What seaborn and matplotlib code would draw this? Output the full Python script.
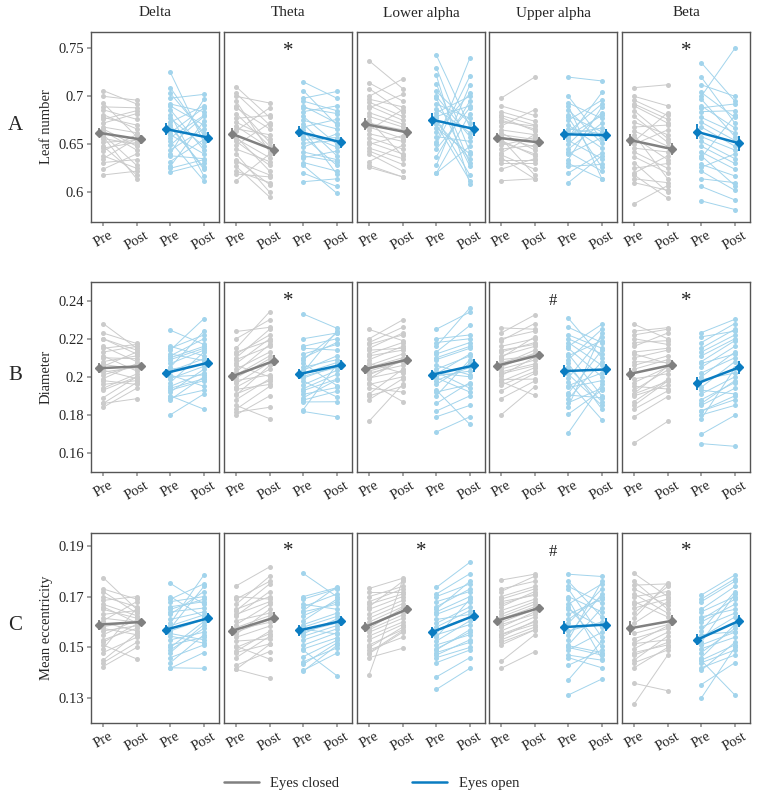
import numpy as np
import pandas as pd
import matplotlib
matplotlib.use('Agg')
import matplotlib.pyplot as plt
from matplotlib.lines import Line2D
import seaborn as sns

# ---------------- labels ----------------
BANDS = ['Delta', 'Theta', 'Lower alpha', 'Upper alpha', 'Beta']
ROWS = ['A', 'B', 'C']
MEASURES = ['Leaf number', 'Diameter', 'Mean eccentricity']
TICK_LABELS = ['Pre', 'Post', 'Pre', 'Post']
CONDITIONS = ['Eyes closed', 'Eyes open']

SIG_A = ['', '*', '', '', '*']
SIG_B = ['', '*', '', '#', '*']
SIG_C = ['', '*', '*', '#', '*']

# ---------------- data (row A in 1e-3, rows B/C in 1e-4) ----------------
# A: leaf number
A_DELTA_EC_PRE = [706, 624, 693, 648, 681, 660, 672, 618, 686, 656, 664, 643, 700, 631, 678, 652, 666, 638, 689, 646, 668, 658, 676, 635]
A_DELTA_EC_POST = [692, 640, 658, 618, 666, 628, 682, 622, 676, 650, 644, 660, 696, 634, 670, 654, 648, 625, 688, 652, 662, 614, 685, 656]
A_DELTA_EO_PRE = [725, 621, 698, 660, 681, 644, 692, 632, 673, 653, 686, 627, 709, 640, 668, 657, 677, 625, 703, 649, 670, 662, 690, 638]
A_DELTA_EO_POST = [652, 630, 702, 640, 617, 666, 684, 655, 690, 612, 644, 674, 659, 697, 626, 680, 648, 634, 662, 679, 624, 688, 670, 635]

A_THETA_EC_PRE = [700, 612, 682, 666, 653, 640, 710, 627, 673, 664, 619, 690, 658, 645, 703, 634, 669, 622, 677, 656, 695, 632, 688, 649]
A_THETA_EC_POST = [693, 640, 648, 660, 628, 600, 678, 595, 656, 688, 616, 652, 622, 632, 670, 608, 646, 610, 680, 636, 642, 618, 666, 672]
A_THETA_EO_PRE = [715, 642, 698, 661, 651, 611, 688, 668, 628, 706, 647, 665, 636, 684, 620, 675, 658, 695, 631, 679, 690, 655, 671, 638]
A_THETA_EO_POST = [698, 634, 705, 647, 654, 614, 682, 676, 599, 670, 661, 619, 643, 690, 606, 666, 628, 685, 622, 650, 672, 657, 638, 632]

A_LALPHA_EC_PRE = [737, 652, 714, 679, 632, 694, 668, 640, 700, 657, 626, 683, 697, 661, 646, 688, 672, 628, 708, 650, 675, 643, 690, 665]
A_LALPHA_EC_POST = [708, 640, 695, 668, 649, 679, 656, 622, 718, 645, 616, 671, 689, 653, 635, 702, 665, 616, 684, 659, 638, 629, 675, 686]
A_LALPHA_EO_PRE = [743, 652, 730, 663, 620, 705, 671, 637, 722, 658, 650, 687, 713, 645, 677, 628, 698, 667, 620, 692, 683, 673, 700, 679]
A_LALPHA_EO_POST = [668, 740, 642, 703, 648, 672, 612, 695, 609, 653, 721, 662, 630, 688, 618, 712, 627, 640, 682, 677, 700, 635, 658, 690]

A_UALPHA_EC_PRE = [698, 645, 678, 660, 612, 684, 652, 641, 690, 658, 630, 669, 680, 649, 636, 673, 662, 624, 675, 656, 665, 654, 639, 634]
A_UALPHA_EC_POST = [720, 649, 664, 655, 614, 674, 640, 660, 680, 647, 630, 686, 670, 657, 614, 669, 644, 635, 666, 618, 660, 638, 624, 634]
A_UALPHA_EO_PRE = [720, 650, 700, 663, 630, 686, 657, 610, 693, 666, 642, 675, 620, 680, 659, 690, 634, 670, 627, 661, 645, 678, 640, 654]
A_UALPHA_EO_POST = [716, 683, 655, 692, 614, 651, 704, 638, 677, 661, 622, 696, 641, 663, 680, 614, 689, 646, 629, 667, 672, 626, 657, 635]

A_BETA_EC_PRE = [709, 650, 696, 637, 588, 679, 664, 618, 700, 646, 625, 673, 692, 657, 610, 668, 620, 685, 642, 653, 631, 690, 660, 614]
A_BETA_EC_POST = [712, 665, 680, 620, 607, 652, 648, 594, 690, 642, 630, 660, 676, 634, 602, 670, 638, 656, 625, 683, 600, 672, 614, 610]
A_BETA_EO_PRE = [735, 700, 720, 673, 591, 690, 658, 712, 626, 684, 614, 704, 648, 697, 606, 688, 668, 629, 678, 642, 653, 636, 622, 638]
A_BETA_EO_POST = [695, 750, 672, 654, 582, 667, 644, 700, 640, 685, 610, 678, 630, 658, 592, 692, 648, 617, 662, 624, 635, 680, 602, 607]

# B: diameter
B_DELTA_EC_PRE = [2280, 2065, 2230, 1990, 2160, 1840, 2080, 2130, 1930, 2200, 2025, 1860, 2110, 2055, 1960, 2200, 1890, 2010, 2150, 1980, 2100, 2035, 1940, 1860]
B_DELTA_EC_POST = [2150, 2040, 2175, 2070, 2080, 1940, 2110, 2160, 2000, 2120, 2050, 1885, 2030, 2130, 1980, 2140, 2000, 2060, 2170, 1960, 2095, 1990, 2015, 1970]
B_DELTA_EO_PRE = [2245, 2030, 2140, 1880, 2090, 2160, 1950, 2050, 1800, 2120, 2010, 2150, 1970, 1900, 2100, 2040, 1930, 2070, 1990, 2110, 1890, 2000, 1920, 1940]
B_DELTA_EO_POST = [2170, 2095, 2305, 2000, 2150, 2110, 2020, 2240, 1910, 2085, 1950, 2220, 2130, 1830, 2160, 2065, 1980, 2140, 2055, 2200, 1930, 2010, 2040, 1990]

B_THETA_EC_PRE = [2150, 1880, 2238, 1965, 2010, 1830, 2120, 2060, 1800, 1995, 2200, 1910, 2040, 1850, 2100, 1980, 2130, 1934, 2025, 1945, 2090, 1814, 2070, 1904]
B_THETA_EC_POST = [2342, 1990, 2260, 2075, 2110, 1950, 2220, 2000, 1900, 2095, 2300, 1980, 2130, 1780, 2250, 2010, 2190, 1960, 2170, 2040, 2160, 1840, 2200, 2060]
B_THETA_EO_PRE = [2330, 2035, 2200, 1938, 2160, 2070, 1828, 2025, 1890, 2120, 1978, 2150, 1818, 2090, 2003, 1908, 2100, 1958, 1868, 2050, 1993, 1878, 2018, 1928]
B_THETA_EO_POST = [2255, 2110, 2230, 2014, 2200, 1954, 2065, 2240, 1984, 2170, 1894, 2140, 1790, 2230, 2049, 1944, 2180, 2034, 1869, 2090, 2059, 1924, 2075, 1988]

B_LALPHA_EC_PRE = [2200, 1767, 2170, 2060, 1990, 2249, 2030, 1940, 2110, 2010, 2150, 1880, 2090, 2050, 1910, 2120, 1970, 2180, 2020, 1994, 2140, 2070, 1960, 1900]
B_LALPHA_EC_POST = [2299, 1960, 2220, 2120, 2095, 2190, 2080, 1920, 2140, 2085, 2230, 1990, 2160, 2100, 2040, 2180, 1870, 2260, 2060, 2030, 2150, 2020, 2000, 1950]
B_LALPHA_EO_PRE = [2160, 1980, 2250, 2090, 1820, 2130, 2025, 1900, 2180, 1930, 2015, 1790, 2100, 2060, 1710, 2200, 1960, 2040, 1860, 2005, 2120, 1995, 2020, 1920]
B_LALPHA_EO_POST = [2362, 2050, 2340, 2150, 1900, 2270, 1940, 2090, 2200, 1750, 2120, 1850, 2160, 2010, 1790, 2220, 2070, 2110, 1970, 2030, 2180, 1920, 2000, 1960]

B_UALPHA_EC_PRE = [2257, 2065, 2230, 1926, 2130, 2200, 1800, 2090, 2160, 2041, 1975, 2110, 1886, 2140, 2051, 2016, 2190, 1956, 2075, 1986, 2100, 2026, 1976, 2006]
B_UALPHA_EC_POST = [2250, 2140, 2325, 2018, 2180, 2240, 1948, 2110, 2200, 2088, 1903, 2160, 1978, 2170, 2125, 2058, 2280, 2028, 2118, 1988, 2210, 2068, 2048, 2103]
B_UALPHA_EO_PRE = [2308, 2090, 2260, 1914, 2050, 2180, 1844, 2120, 2200, 1974, 1705, 2160, 2014, 2110, 1884, 2070, 2220, 1954, 1864, 2150, 1994, 1904, 1804, 1944]
B_UALPHA_EO_POST = [2100, 2250, 2180, 2140, 1870, 2060, 2230, 1900, 2120, 1775, 1960, 2276, 1850, 2190, 2080, 1830, 2150, 2020, 1940, 2000, 2210, 1890, 1930, 1980]

B_BETA_EC_PRE = [2276, 2060, 2240, 1930, 2200, 2130, 1790, 2100, 2220, 1870, 2040, 1652, 2160, 1990, 2180, 1830, 2080, 1912, 1900, 2120, 1950, 1850, 1970, 1910]
B_BETA_EC_POST = [2200, 2110, 2258, 2036, 2170, 2150, 1896, 2140, 2250, 1986, 2090, 1766, 2230, 2016, 2190, 1926, 2075, 2056, 1956, 2070, 1936, 1978, 2051, 1976]
B_BETA_EO_PRE = [2232, 1649, 2150, 2050, 1780, 2180, 1945, 1698, 2110, 2000, 1850, 2210, 1820, 2020, 1880, 1985, 1930, 2130, 1910, 1821, 2080, 1800, 2070, 1860]
B_BETA_EO_POST = [2302, 1635, 2250, 2160, 2045, 2280, 2080, 1798, 2200, 2130, 1940, 2240, 1880, 2100, 1970, 2020, 1910, 2220, 2000, 1900, 2190, 1850, 2120, 1980]

# C: mean eccentricity
C_DELTA_EC_PRE = [1775, 1615, 1730, 1550, 1670, 1440, 1598, 1700, 1480, 1630, 1575, 1720, 1510, 1605, 1660, 1425, 1582, 1685, 1530, 1650, 1565, 1450, 1520, 1495]
C_DELTA_EC_POST = [1650, 1600, 1690, 1608, 1625, 1520, 1565, 1660, 1540, 1645, 1550, 1635, 1455, 1680, 1597, 1500, 1603, 1700, 1575, 1615, 1585, 1555, 1592, 1655]
C_DELTA_EO_PRE = [1752, 1575, 1700, 1595, 1490, 1680, 1555, 1418, 1650, 1610, 1420, 1690, 1530, 1640, 1565, 1460, 1630, 1545, 1660, 1500, 1510, 1585, 1440, 1480]
C_DELTA_EO_POST = [1670, 1740, 1620, 1785, 1575, 1700, 1530, 1480, 1690, 1640, 1418, 1750, 1560, 1655, 1610, 1510, 1720, 1517, 1680, 1602, 1540, 1628, 1550, 1590]

C_THETA_EC_PRE = [1742, 1578, 1700, 1485, 1670, 1552, 1414, 1625, 1690, 1525, 1570, 1430, 1650, 1605, 1460, 1590, 1630, 1414, 1560, 1645, 1505, 1540, 1480, 1500]
C_THETA_EC_POST = [1817, 1625, 1690, 1564, 1780, 1650, 1512, 1720, 1760, 1534, 1599, 1484, 1700, 1635, 1544, 1670, 1680, 1379, 1609, 1750, 1454, 1584, 1514, 1554]
C_THETA_EO_PRE = [1791, 1580, 1700, 1529, 1407, 1645, 1670, 1554, 1605, 1410, 1690, 1562, 1434, 1625, 1544, 1660, 1489, 1590, 1464, 1640, 1572, 1509, 1444, 1494]
C_THETA_EO_POST = [1700, 1622, 1735, 1573, 1508, 1739, 1650, 1612, 1690, 1478, 1730, 1596, 1518, 1680, 1586, 1710, 1389, 1635, 1528, 1670, 1553, 1558, 1498, 1538]

C_LALPHA_EC_PRE = [1732, 1600, 1700, 1545, 1670, 1392, 1585, 1720, 1630, 1460, 1650, 1575, 1510, 1680, 1570, 1490, 1615, 1530, 1660, 1476, 1590, 1560, 1480, 1500]
C_LALPHA_EC_POST = [1772, 1660, 1740, 1600, 1710, 1765, 1640, 1720, 1685, 1497, 1700, 1655, 1570, 1730, 1628, 1540, 1672, 1590, 1760, 1560, 1645, 1615, 1566, 1580]
C_LALPHA_EO_PRE = [1736, 1580, 1640, 1710, 1610, 1550, 1700, 1384, 1680, 1525, 1335, 1650, 1570, 1495, 1630, 1660, 1440, 1595, 1510, 1480, 1540, 1490, 1470, 1460]
C_LALPHA_EO_POST = [1835, 1645, 1700, 1790, 1630, 1590, 1750, 1460, 1720, 1605, 1418, 1760, 1620, 1560, 1680, 1730, 1490, 1660, 1550, 1520, 1690, 1570, 1530, 1500]

C_UALPHA_EC_PRE = [1765, 1630, 1700, 1598, 1680, 1418, 1720, 1565, 1660, 1445, 1645, 1612, 1530, 1690, 1580, 1510, 1670, 1590, 1552, 1620, 1550, 1730, 1540, 1520]
C_UALPHA_EC_POST = [1788, 1680, 1740, 1650, 1705, 1483, 1780, 1620, 1720, 1550, 1690, 1660, 1580, 1730, 1640, 1569, 1710, 1630, 1600, 1670, 1590, 1760, 1605, 1570]
C_UALPHA_EO_PRE = [1788, 1610, 1730, 1313, 1670, 1565, 1740, 1460, 1650, 1595, 1430, 1700, 1530, 1690, 1372, 1630, 1507, 1760, 1550, 1490, 1660, 1510, 1470, 1500]
C_UALPHA_EO_POST = [1779, 1700, 1540, 1376, 1750, 1600, 1675, 1420, 1580, 1730, 1490, 1640, 1760, 1455, 1525, 1690, 1480, 1620, 1710, 1560, 1505, 1655, 1450, 1470]

C_BETA_EC_PRE = [1791, 1635, 1760, 1495, 1730, 1359, 1700, 1555, 1680, 1277, 1655, 1745, 1450, 1595, 1420, 1615, 1518, 1710, 1470, 1670, 1535, 1440, 1515, 1480]
C_BETA_EC_POST = [1700, 1740, 1650, 1560, 1665, 1330, 1720, 1590, 1620, 1470, 1690, 1750, 1545, 1680, 1500, 1755, 1585, 1635, 1520, 1710, 1575, 1490, 1530, 1510]
C_BETA_EO_PRE = [1706, 1650, 1540, 1680, 1600, 1449, 1565, 1620, 1301, 1690, 1510, 1640, 1460, 1580, 1354, 1610, 1495, 1550, 1410, 1520, 1480, 1440, 1420, 1450]
C_BETA_EO_POST = [1785, 1740, 1620, 1760, 1670, 1313, 1720, 1650, 1500, 1770, 1560, 1700, 1590, 1635, 1440, 1690, 1540, 1562, 1520, 1710, 1575, 1490, 1470, 1510]

ROW_SCALE = {'A': 1e-3, 'B': 1e-4, 'C': 1e-4}
Y_LIMS = {'A': (0.569, 0.767), 'B': (0.150, 0.2498), 'C': (0.1203, 0.195)}
Y_TICKS = {'A': [0.6, 0.65, 0.7, 0.75],
           'B': [0.16, 0.18, 0.2, 0.22, 0.24],
           'C': [0.13, 0.15, 0.17, 0.19]}
Y_TICKLABELS = {'A': ['0.6', '0.65', '0.7', '0.75'],
                'B': ['0.16', '0.18', '0.2', '0.22', '0.24'],
                'C': ['0.13', '0.15', '0.17', '0.19']}

# ---------------- styling ----------------
LIGHT = {'Eyes closed': '#cbcbcb', 'Eyes open': '#a2d4ec'}
DARK = {'Eyes closed': '#808080', 'Eyes open': '#0a7cc1'}
SPINE = '#555555'
BAND_KEYS = ['DELTA', 'THETA', 'LALPHA', 'UALPHA', 'BETA']


def build_frame():
    rows = []
    g = globals()
    for r in ROWS:
        for b, key in zip(BANDS, BAND_KEYS):
            for ci, (cond, ck) in enumerate(zip(CONDITIONS, ['EC', 'EO'])):
                pre = g[f'{r}_{key}_{ck}_PRE']
                post = g[f'{r}_{key}_{ck}_POST']
                for s, (v0, v1) in enumerate(zip(pre, post)):
                    for t, v in enumerate([v0, v1]):
                        rows.append({'row': r, 'band': b, 'cond': cond,
                                     'subject': f'{ck}{s}', 'x': 2 * ci + t,
                                     'value': v * ROW_SCALE[r]})
    return pd.DataFrame(rows)


df = build_frame()

sns.set_theme(style='white')
plt.rcParams['font.family'] = ['Liberation Serif', 'DejaVu Serif']
plt.rcParams['font.size'] = 10.5

W, H = 766, 796
fig = plt.figure(figsize=(W / 100, H / 100), dpi=100)
col_left = [91, 224, 357, 489, 622]
row_top = [32, 282, 533]
aw, ah = 128, 190
sigs = {'A': SIG_A, 'B': SIG_B, 'C': SIG_C}

for ri, r in enumerate(ROWS):
    for bi, b in enumerate(BANDS):
        ax = fig.add_axes([col_left[bi] / W, 1 - (row_top[ri] + ah) / H, aw / W, ah / H])
        sub = df[(df['row'] == r) & (df['band'] == b)]
        sns.lineplot(data=sub, x='x', y='value', hue='cond', units='subject',
                     estimator=None, palette=LIGHT, marker='o', markersize=3.6,
                     markeredgewidth=0, linewidth=0.7, ax=ax, legend=False)
        # group means with SEM
        for ci, cond in enumerate(CONDITIONS):
            g = sub[sub['cond'] == cond].groupby('x')['value']
            m = g.mean().values
            se = (g.std() / np.sqrt(g.count())).values
            xs = np.array([2 * ci - 0.13, 2 * ci + 1.13])
            ax.errorbar(xs, m, yerr=se, color=DARK[cond], lw=1.8, marker='D',
                        markersize=4, elinewidth=1.3, capsize=0, zorder=5)
        ax.set_xlim(-0.36, 3.45)
        ax.set_ylim(*Y_LIMS[r])
        ax.set_xticks(range(4))
        ax.set_xticklabels(TICK_LABELS, rotation=30, fontsize=10.5)
        ax.set_xlabel('')
        ax.set_ylabel('')
        ax.tick_params(axis='x', length=3, color='#999999', pad=2, bottom=True)
        if bi == 0:
            ax.set_yticks(Y_TICKS[r])
            ax.set_yticklabels(Y_TICKLABELS[r], fontsize=10.5)
            ax.tick_params(axis='y', length=3, color='#999999', left=True, pad=2)
            ax.set_ylabel(MEASURES[ri], fontsize=10.5, labelpad=4)
        else:
            ax.set_yticks([])
        for sp in ax.spines.values():
            sp.set_color(SPINE)
            sp.set_linewidth(1.0)
        mark = sigs[r][bi]
        if mark:
            ax.text(0.5, 0.9, mark, transform=ax.transAxes, ha='center', va='center',
                    fontsize=15 if mark == '*' else 12, color='#222222')
        if ri == 0:
            fig.text((col_left[bi] + aw / 2) / W, 1 - 13 / H, b, ha='center',
                     va='center', fontsize=11)
    fig.text(15 / W, 1 - (row_top[ri] + ah / 2 - 2) / H, r, ha='center', va='center',
             fontsize=15)

handles = [Line2D([], [], color=DARK[c], lw=1.8) for c in CONDITIONS]
fig.legend(handles, CONDITIONS, loc='center', ncol=2, frameon=False,
           bbox_to_anchor=(0.485, 1 - 783 / H), handlelength=2.4, columnspacing=5.0,
           fontsize=10.5)

fig.savefig('out.png', dpi=100, facecolor='white')
